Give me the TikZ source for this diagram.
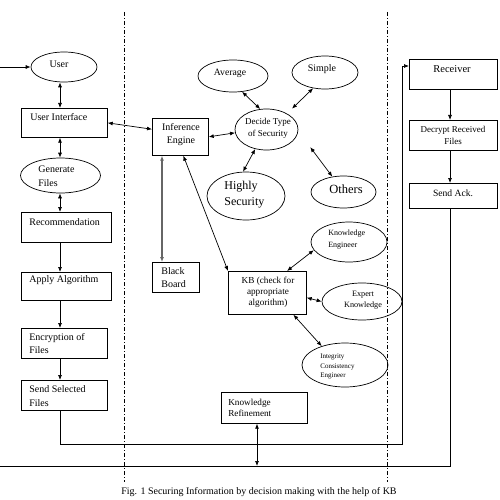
\documentclass[tikz,border=0pt]{standalone}
\usepackage{fontspec}
\setmainfont{Liberation Serif}
\usetikzlibrary{arrows.meta,shapes.geometric,calc}
\newcommand{\fs}[2]{\fontsize{#1pt}{#2pt}\selectfont}
\begin{document}
\begin{tikzpicture}[x=1pt,y=-1pt,
  line width=0.7pt,
  box/.style={draw, rectangle, inner sep=0, anchor=north west},
  ell/.style={draw, ellipse, inner sep=0},
  txt/.style={inner sep=0, align=left, anchor=west},
  tc/.style={inner sep=0, align=center},
  arr/.style={-{Latex[length=5pt,width=4pt]}},
  darr/.style={{Latex[length=5pt,width=4pt]}-{Latex[length=5pt,width=4pt]}},
  sepline/.style={dash pattern=on 4pt off 2pt on 1pt off 2pt, line width=0.6pt},
]
\useasboundingbox (0,0) rectangle (500,500);

% separators
\coordinate (sepLT) at (124,12);
\coordinate (sepLB) at (124,482);
\coordinate (sepRT) at (387,12);
\coordinate (sepRB) at (387,482);
\draw[sepline] (sepLT) -- (sepLB);
\draw[sepline] (sepRT) -- (sepRB);

% left column
\node[ell, minimum width=66pt, minimum height=30pt] (user) at (64,67) {};
\node[tc, font=\fs{10}{12}] (tuser) at (59,64) {User};
\node[box, minimum width=86pt, minimum height=29pt] (ui) at (21,108) {};
\node[txt, font=\fs{10}{12}] (tui) at (30,117) {User Interface};
\node[ell, minimum width=80pt, minimum height=35pt] (gen) at (60.5,175.5) {};
\node[txt, font=\fs{10}{14}] (tgen) at (38,176) {Generate\\Files};
\node[box, minimum width=90pt, minimum height=30pt] (rec) at (21,212) {};
\node[txt, font=\fs{10}{12}] (trec) at (29,222) {Recommendation};
\node[box, minimum width=90pt, minimum height=28pt] (app) at (21,272) {};
\node[txt, font=\fs{10}{12}] (tapp) at (29,280) {Apply Algorithm};
\node[box, minimum width=86pt, minimum height=30pt] (enc) at (21,328) {};
\node[txt, font=\fs{10}{13}] (tenc) at (29,343.5) {Encryption of\\Files};
\node[box, minimum width=86pt, minimum height=30pt] (snd) at (21,380) {};
\node[txt, font=\fs{10}{14}] (tsnd) at (29,396) {Send Selected\\Files};

% middle
\node[box, minimum width=56pt, minimum height=37pt] (ie) at (152,118) {};
\node[tc, font=\fs{10}{13}] (tie) at (181,134.5) {Inference\\Engine};
\node[ell, minimum width=63pt, minimum height=41pt] (dec) at (266.5,129.5) {};
\node[tc, font=\fs{9}{11.5}] (tdec) at (268,128.5) {Decide Type\\of Security};
\node[ell, minimum width=70pt, minimum height=32pt] (avg) at (233,76) {};
\node[tc, font=\fs{9.7}{12}] (tavg) at (230,73) {Average};
\node[ell, minimum width=66pt, minimum height=33pt] (smp) at (325,72.5) {};
\node[tc, font=\fs{10}{12}] (tsmp) at (322,69) {Simple};
\node[ell, minimum width=78pt, minimum height=48pt] (hs) at (246,196) {};
\node[txt, font=\fs{12}{16}] (ths) at (224,195) {Highly\\Security};
\node[ell, minimum width=65pt, minimum height=32pt] (oth) at (343.5,192) {};
\node[tc, font=\fs{12.5}{14}] (toth) at (346,189) {Others};
\node[box, minimum width=47pt, minimum height=30pt] (bb) at (152,262) {};
\node[txt, font=\fs{10}{13}] (tbb) at (161,277.5) {Black\\Board};
\node[box, minimum width=78pt, minimum height=43pt] (kb) at (228,271) {};
\node[tc, font=\fs{9.2}{11}] (tkb) at (268,292) {KB (check for\\appropriate\\algorithm)};
\node[ell, minimum width=76pt, minimum height=40pt] (ke) at (349,242) {};
\node[txt, font=\fs{8}{12}] (tke) at (328,240) {Knowledge\\Engineer};
\node[ell, minimum width=80pt, minimum height=37pt] (ek) at (362,301.5) {};
\node[tc, font=\fs{8.2}{11}] (tek) at (363,300.5) {Expert\\Knowledge};
\node[ell, minimum width=86pt, minimum height=44pt] (ice) at (345,365) {};
\node[txt, font=\fs{7}{9.5}] (tice) at (320,366.5) {Integrity\\Consistency\\Engineer};
\node[box, minimum width=86pt, minimum height=31pt] (kr) at (221,392) {};
\node[txt, font=\fs{9.2}{11}] (tkr) at (228,407.5) {Knowledge\\Refinement};

% right column
\node[box, minimum width=88pt, minimum height=30pt] (rcv) at (409,59) {};
\node[tc, font=\fs{10.5}{12}] (trcv) at (452,69) {Receiver};
\node[box, minimum width=88pt, minimum height=30pt] (dcr) at (409,120) {};
\node[tc, font=\fs{9}{12}] (tdcr) at (453,135) {Decrypt Received\\Files};
\node[box, minimum width=88pt, minimum height=25pt] (ack) at (409,183) {};
\node[tc, font=\fs{9.6}{12}] (tack) at (453,193) {Send Ack.};

% caption
\node[tc, font=\fs{10}{12}] (cap) at (259,492) {Fig. 1 Securing Information by decision making with the help of KB};

% connectors
\coordinate (colL) at (60,0);
\coordinate (inL) at (0,67);
\draw[arr] (inL) -- (user.west);
\draw[darr] (user.south -| colL) -- (ui.north -| colL);
\draw[darr] (ui.south -| colL) -- (gen.north -| colL);
\draw[darr] (gen.south -| colL) -- (rec.north -| colL);
\draw[arr] (rec.south -| colL) -- (app.north -| colL);
\draw[arr] (app.south -| colL) -- (enc.north -| colL);
\draw[arr] (enc.south -| colL) -- (snd.north -| colL);
\coordinate (loopB) at (402,444);
\coordinate (loopT) at (402,66);
\draw[arr] (snd.south -| colL) |- (loopB) -- (loopT) -- (loopT -| rcv.west);
\coordinate (colR) at (450,0);
\draw[arr] (rcv.south -| colR) -- (dcr.north -| colR);
\draw[arr] (dcr.south -| colR) -- (ack.north -| colR);
\coordinate (botL) at (0,466);
\draw (ack.south -| colR) |- (botL);
\coordinate (krB) at (257,466);
\draw[darr] (kr.south -| krB) -- (krB);

\draw[darr] (ui.east) -- (ie.165);
\draw[darr] (ie.east) -- (dec.186);
\draw[darr] (avg.-60) -- (dec.107);
\draw[darr, shorten >=7pt] (smp.-127) -- (dec.38);
\draw[darr] (hs.97) -- (dec.240);
\draw[darr, shorten <=20pt] (dec.-3) -- (oth.126);
\coordinate (colBB) at (162,0);
\draw[darr, gray!80!black, line width=1.1pt] (ie.south -| colBB) -- (bb.north -| colBB);
\draw[darr] (ie.-81) -- (kb.north west);
\draw[darr] (kb.48) -- (ke.193);
\draw[darr] (kb.-7) -- (ek.west);
\draw[darr] (kb.-40) -- (ice.141);
\end{tikzpicture}
\end{document}
